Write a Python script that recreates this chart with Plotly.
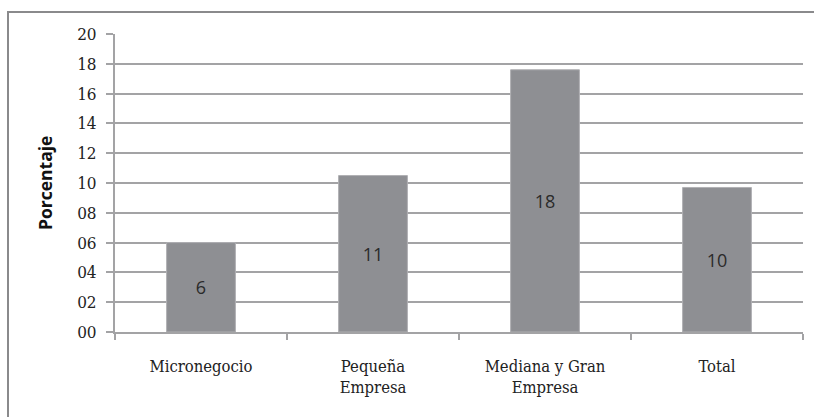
import plotly.graph_objects as go

categories = ["Micronegocio", "Pequeña<br>Empresa", "Mediana y Gran<br>Empresa", "Total"]
values = [6.0, 10.5, 17.6, 9.7]
y_ticks = [0, 2, 4, 6, 8, 10, 12, 14, 16, 18, 20]
y_title = "Porcentaje"

serif = "DejaVu Serif Condensed, Liberation Serif, serif"
grid = "#a3a3a5"

fig = go.Figure(go.Bar(
    x=categories, y=values,
    marker=dict(color="#8e8f93", line=dict(color="#b0b0b3", width=1)),
    texttemplate="%{y:.0f}", textposition="inside", insidetextanchor="middle",
    textfont=dict(family="Open Sans, Liberation Sans, sans-serif", size=18, color="#2a2a2a"),
    width=0.4,
))

fig.update_layout(
    width=814, height=417,
    margin=dict(l=115, r=11, t=34, b=85),
    paper_bgcolor="white", plot_bgcolor="white",
    showlegend=False,
    xaxis=dict(
        showline=True, linecolor=grid, linewidth=2,
        ticks="outside", tickson="boundaries", ticklen=6, tickcolor=grid, tickwidth=2,
        tickfont=dict(family=serif, size=16.5, color="#222"),
        ticklabelstandoff=18,
        showgrid=False,
    ),
    yaxis=dict(
        range=[0, 20], tickvals=y_ticks, tickformat="02d",
        showline=True, linecolor=grid, linewidth=2,
        ticks="outside", ticklen=7, tickcolor=grid, tickwidth=2,
        showgrid=True, gridcolor=grid, gridwidth=2,
        zeroline=False,
        tickfont=dict(family=serif, size=17, color="#222"),
        ticklabelstandoff=6,
    ),
    annotations=[dict(
        text="<b>" + y_title + "</b>", textangle=-90,
        xref="paper", yref="paper", x=(45 - 115) / 688, y=0.5,
        showarrow=False, xanchor="center", yanchor="middle",
        font=dict(family="Open Sans, Liberation Sans, sans-serif", size=17.5, color="#111"),
    )],
    shapes=[dict(
        type="path", xref="paper", yref="paper",
        path=f"M {(8 - 115) / 688},{(332 - 430) / 298} L {(8 - 115) / 688},{(332 - 12) / 298} L {(830 - 115) / 688},{(332 - 12) / 298}",
        line=dict(color="#8a8a8c", width=2),
    )],
)

fig.write_html("out.html")
